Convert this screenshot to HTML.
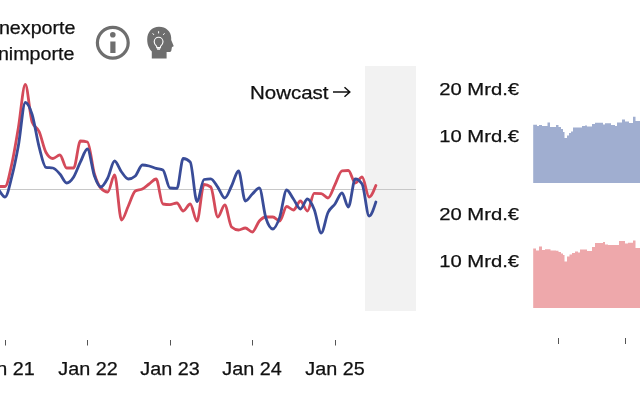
<!DOCTYPE html>
<html><head><meta charset="utf-8"><style>
html,body{margin:0;padding:0;background:#fff;width:640px;height:400px;overflow:hidden;}
body{position:relative;font-family:"Liberation Sans",sans-serif;color:#111;}
.t{position:absolute;white-space:nowrap;line-height:1;will-change:transform;-webkit-text-stroke:0.25px #111;}
</style></head><body>
<svg width="640" height="400" style="position:absolute;left:0;top:0">
<rect x="365" y="66" width="51" height="245" fill="#f2f2f2"/>
<line x1="0" y1="189.5" x2="416" y2="189.5" stroke="#c8c8c8" stroke-width="1"/>
<path d="M-8.78,186.50 C-6.52,186.50 -4.26,186.50 -2.00,186.50 C0.33,186.50 2.67,186.50 5.00,186.50 C7.33,186.50 9.67,173.50 12.00,163.00 C14.11,153.51 16.22,140.35 18.33,128.00 C20.66,114.33 22.99,84.50 25.33,84.50 C27.59,84.50 29.85,115.87 32.10,122.00 C34.44,128.33 36.77,126.32 39.11,131.50 C41.37,136.51 43.62,148.13 45.88,152.20 C48.22,156.40 50.55,158.50 52.89,158.50 C55.22,158.50 57.55,155.00 59.89,155.00 C62.15,155.00 64.40,168.00 66.66,168.00 C69.00,168.00 71.33,168.00 73.67,168.00 C75.92,168.00 78.18,141.00 80.44,141.00 C82.78,141.00 85.11,141.33 87.44,142.00 C89.78,142.67 92.11,166.22 94.45,174.00 C96.55,181.02 98.66,185.59 100.77,188.00 C103.10,190.67 105.44,192.00 107.77,192.00 C110.03,192.00 112.29,175.00 114.55,175.00 C116.88,175.00 119.22,220.00 121.55,220.00 C123.81,220.00 126.07,210.75 128.33,206.00 C130.66,201.09 132.99,192.33 135.33,191.00 C137.66,189.67 140.00,190.20 142.33,189.00 C144.59,187.84 146.85,185.64 149.11,184.00 C151.44,182.31 153.77,179.00 156.11,179.00 C158.37,179.00 160.63,203.66 162.89,204.00 C165.22,204.35 167.55,204.53 169.89,204.53 C172.22,204.53 174.56,203.00 176.89,203.00 C179.00,203.00 181.11,211.00 183.21,211.00 C185.55,211.00 187.88,204.00 190.22,204.00 C192.47,204.00 194.73,221.00 196.99,221.00 C199.33,221.00 201.66,184.50 203.99,184.50 C206.25,184.50 208.51,185.33 210.77,187.00 C213.10,188.72 215.44,217.00 217.77,217.00 C220.11,217.00 222.44,205.00 224.77,205.00 C227.03,205.00 229.29,225.06 231.55,227.00 C233.88,229.00 236.22,230.00 238.55,230.00 C240.81,230.00 243.07,228.00 245.33,228.00 C247.66,228.00 250.00,232.00 252.33,232.00 C254.66,232.00 257.00,223.51 259.33,221.00 C261.52,218.65 263.70,217.00 265.88,217.00 C268.22,217.00 270.55,217.00 272.89,217.00 C275.14,217.00 277.40,221.00 279.66,221.00 C282.00,221.00 284.33,206.50 286.66,206.50 C288.92,206.50 291.18,210.00 293.44,210.00 C295.77,210.00 298.11,201.00 300.44,201.00 C302.78,201.00 305.11,211.00 307.44,211.00 C309.70,211.00 311.96,193.47 314.22,193.47 C316.55,193.47 318.89,193.50 321.22,193.57 C323.48,193.63 325.74,198.00 328.00,198.00 C330.33,198.00 332.67,189.10 335.00,184.57 C337.33,180.05 339.67,171.12 342.00,170.86 C344.11,170.62 346.22,170.50 348.33,170.50 C350.66,170.50 352.99,183.05 355.33,183.05 C357.59,183.05 359.85,177.00 362.10,177.00 C364.44,177.00 366.77,197.00 369.11,197.00 C371.37,197.00 373.62,191.25 375.88,185.50" fill="none" stroke="#d44a5a" stroke-width="2.8" stroke-linejoin="round" stroke-linecap="round"/>
<path d="M-8.78,182.00 C-6.52,184.27 -4.26,186.55 -2.00,189.00 C0.33,191.54 2.67,197.00 5.00,197.00 C7.33,197.00 9.67,185.14 12.00,176.00 C14.11,167.75 16.22,157.47 18.33,146.00 C20.66,133.30 22.99,102.50 25.33,102.50 C27.59,102.50 29.85,107.33 32.10,114.50 C34.44,121.91 36.77,138.00 39.11,146.89 C41.37,155.48 43.62,166.83 45.88,167.29 C48.22,167.76 50.55,167.53 52.89,168.00 C55.22,168.47 57.55,171.44 59.89,174.00 C62.15,176.48 64.40,183.00 66.66,183.00 C69.00,183.00 71.33,180.61 73.67,177.00 C75.92,173.50 78.18,166.57 80.44,161.97 C82.78,157.21 85.11,149.00 87.44,149.00 C89.78,149.00 92.11,169.60 94.45,176.00 C96.55,181.78 98.66,187.00 100.77,187.00 C103.10,187.00 105.44,182.45 107.77,178.00 C110.03,173.69 112.29,161.00 114.55,161.00 C116.88,161.00 119.22,168.97 121.55,172.00 C123.81,174.93 126.07,179.00 128.33,179.00 C130.66,179.00 132.99,178.00 135.33,176.00 C137.66,174.00 140.00,165.00 142.33,165.00 C144.59,165.00 146.85,165.45 149.11,166.00 C151.44,166.57 153.77,167.73 156.11,168.40 C158.37,169.05 160.63,168.93 162.89,170.00 C165.22,171.10 167.55,187.73 169.89,188.00 C172.22,188.27 174.56,188.40 176.89,188.40 C179.00,188.40 181.11,158.50 183.21,158.50 C185.55,158.50 187.88,159.67 190.22,162.00 C192.47,164.26 194.73,201.50 196.99,201.50 C199.33,201.50 201.66,179.98 203.99,179.50 C206.25,179.03 208.51,178.80 210.77,178.80 C213.10,178.80 215.44,183.90 217.77,187.10 C220.11,190.30 222.44,198.00 224.77,198.00 C227.03,198.00 229.29,190.41 231.55,186.00 C233.88,181.44 236.22,171.00 238.55,171.00 C240.81,171.00 243.07,201.00 245.33,201.00 C247.66,201.00 250.00,196.17 252.33,194.00 C254.66,191.83 257.00,188.00 259.33,188.00 C261.52,188.00 263.70,211.18 265.88,218.00 C268.22,225.30 270.55,229.00 272.89,229.00 C275.14,229.00 277.40,223.67 279.66,217.36 C282.00,210.83 284.33,190.00 286.66,190.00 C288.92,190.00 291.18,195.89 293.44,199.00 C295.77,202.21 298.11,209.00 300.44,209.00 C302.78,209.00 305.11,199.00 307.44,199.00 C309.70,199.00 311.96,203.93 314.22,209.44 C316.55,215.13 318.89,233.00 321.22,233.00 C323.48,233.00 325.74,217.32 328.00,212.50 C330.33,207.52 332.67,207.25 335.00,204.00 C337.33,200.75 339.67,193.00 342.00,193.00 C344.11,193.00 346.22,207.00 348.33,207.00 C350.66,207.00 352.99,179.00 355.33,179.00 C357.59,179.00 359.85,180.67 362.10,184.00 C364.44,187.44 366.77,216.00 369.11,216.00 C371.37,216.00 373.62,209.00 375.88,202.00" fill="none" stroke="#394c98" stroke-width="2.8" stroke-linejoin="round" stroke-linecap="round"/>
<path d="M533.2,183.0 L533.2,124.8 L537.0,124.8 L537.0,126.0 L539.0,126.0 L539.0,125.0 L542.0,125.0 L542.0,126.0 L547.5,126.0 L547.5,122.5 L550.0,122.5 L550.0,127.0 L556.0,127.0 L556.0,125.0 L558.5,125.0 L558.5,127.0 L561.0,127.0 L561.0,129.0 L563.0,129.0 L563.0,132.0 L564.5,132.0 L564.5,138.0 L567.0,138.0 L567.0,135.5 L569.0,135.5 L569.0,133.0 L571.0,133.0 L571.0,131.5 L573.0,131.5 L573.0,127.5 L582.0,127.5 L582.0,126.0 L585.0,126.0 L585.0,125.5 L587.0,125.5 L587.0,126.5 L592.0,126.5 L592.0,124.0 L595.0,124.0 L595.0,122.8 L603.0,122.8 L603.0,124.5 L605.0,124.5 L605.0,123.3 L611.0,123.3 L611.0,125.0 L615.0,125.0 L615.0,126.0 L617.0,126.0 L617.0,122.5 L622.0,122.5 L622.0,119.5 L625.0,119.5 L625.0,121.5 L629.0,121.5 L629.0,123.0 L633.0,123.0 L633.0,116.8 L635.5,116.8 L635.5,121.0 L640.0,121.0 L640.0,183.0 Z" fill="#a0aed0"/>
<path d="M533.2,308.0 L533.2,248.5 L536.0,248.5 L536.0,250.5 L539.0,250.5 L539.0,246.5 L542.0,246.5 L542.0,250.0 L545.0,250.0 L545.0,249.3 L550.5,249.3 L550.5,250.5 L556.0,250.5 L556.0,250.8 L558.5,250.8 L558.5,252.0 L561.0,252.0 L561.0,253.5 L563.0,253.5 L563.0,255.0 L564.5,255.0 L564.5,261.5 L567.0,261.5 L567.0,256.5 L569.5,256.5 L569.5,254.5 L572.0,254.5 L572.0,253.0 L575.0,253.0 L575.0,251.5 L578.0,251.5 L578.0,252.5 L580.0,252.5 L580.0,249.5 L587.0,249.5 L587.0,251.0 L592.0,251.0 L592.0,247.0 L595.0,247.0 L595.0,243.0 L603.0,243.0 L603.0,242.0 L605.0,242.0 L605.0,244.5 L608.0,244.5 L608.0,245.0 L619.0,245.0 L619.0,241.0 L625.0,241.0 L625.0,243.5 L628.0,243.5 L628.0,242.8 L633.0,242.8 L633.0,240.5 L635.5,240.5 L635.5,248.0 L640.0,248.0 L640.0,308.0 Z" fill="#eea8ab"/>
<g stroke="#555" stroke-width="1">
<line x1="5.5" y1="340" x2="5.5" y2="345.5"/>
<line x1="87.5" y1="340" x2="87.5" y2="345.5"/>
<line x1="170.5" y1="340" x2="170.5" y2="345.5"/>
<line x1="252.5" y1="340" x2="252.5" y2="345.5"/>
<line x1="335.5" y1="340" x2="335.5" y2="345.5"/>
<line x1="558.5" y1="338" x2="558.5" y2="344"/>
<line x1="625.5" y1="338" x2="625.5" y2="344"/>
</g>
<!-- info icon -->
<circle cx="112.8" cy="42.75" r="15.4" fill="none" stroke="#6e6e6e" stroke-width="3.2"/>
<circle cx="112.8" cy="34.8" r="2.8" fill="#6e6e6e"/>
<rect x="110.3" y="41.5" width="5.2" height="11.5" fill="#6e6e6e"/>
<!-- head icon -->
<path d="M151.8,58.5 L151.8,51.5 C150.5,50.2 149.8,49.2 149.2,48 C147.8,45.5 147.2,42.5 147.2,39.5 C147.2,32 152,26.8 159,26.8 C166,26.8 171,31.5 171.2,37.8 L171.2,40 L173.6,45.8 C173.7,46.4 173.2,46.8 172,47 L171.6,49 L171.3,50.8 C171,51.6 170.3,52 169.2,52 L166.6,52 L166.6,58.5 Z" fill="#6e6e6e"/>
<path d="M156.8,47.6 L156.6,46.2 C155,45 154.2,43.6 154.2,41.8 C154.2,39.2 156.2,37.3 158.6,37.3 C161,37.3 163,39.2 163,41.8 C163,43.6 162.2,45 160.6,46.2 L160.4,47.6 Z" fill="none" stroke="#fff" stroke-width="1.1"/>
<path d="M156.9,48.2 L160.3,48.2 L160,49.8 L157.2,49.8 Z" fill="#fff"/>
<g stroke="#fff" stroke-width="1" stroke-linecap="round"><line x1="152.9" y1="33.6" x2="153.7" y2="34.6"/><line x1="158.6" y1="31.6" x2="158.6" y2="33"/><line x1="164.3" y1="33.6" x2="163.5" y2="34.6"/></g>
</svg>
<div class="t" style="right:564.5px;top:19.4px;font-size:18.5px;transform:scaleX(1.064);transform-origin:right top">Warenexporte</div>
<div class="t" style="right:565.2px;top:45.4px;font-size:18.5px;transform:scaleX(1.064);transform-origin:right top">Warenimporte</div>
<div class="t" style="left:249.8px;top:84.5px;font-size:17.5px;transform:scaleX(1.17);transform-origin:left top">Nowcast</div>
<svg width="20" height="12" style="position:absolute;left:332px;top:86.3px"><path d="M1,6 L17.5,6 M12.5,1.2 L17.8,6 L12.5,10.8" fill="none" stroke="#111" stroke-width="1.5"/></svg>
<div class="t" style="right:121px;top:81.3px;font-size:17px;transform:scaleX(1.19);transform-origin:right top">20 Mrd.€</div>
<div class="t" style="right:121px;top:127.5px;font-size:17px;transform:scaleX(1.19);transform-origin:right top">10 Mrd.€</div>
<div class="t" style="right:121px;top:206.3px;font-size:17px;transform:scaleX(1.19);transform-origin:right top">20 Mrd.€</div>
<div class="t" style="right:121px;top:252.5px;font-size:17px;transform:scaleX(1.19);transform-origin:right top">10 Mrd.€</div>
<div class="t" style="left:-24px;top:359.6px;font-size:18px;width:58px;text-align:center;transform:scaleX(1.1)">Jan 21</div>
<div class="t" style="left:58.9px;top:359.6px;font-size:18px;width:58px;text-align:center;transform:scaleX(1.1)">Jan 22</div>
<div class="t" style="left:141px;top:359.6px;font-size:18px;width:58px;text-align:center;transform:scaleX(1.1)">Jan 23</div>
<div class="t" style="left:222.7px;top:359.6px;font-size:18px;width:58px;text-align:center;transform:scaleX(1.1)">Jan 24</div>
<div class="t" style="left:306px;top:359.6px;font-size:18px;width:58px;text-align:center;transform:scaleX(1.1)">Jan 25</div>
</body></html>
